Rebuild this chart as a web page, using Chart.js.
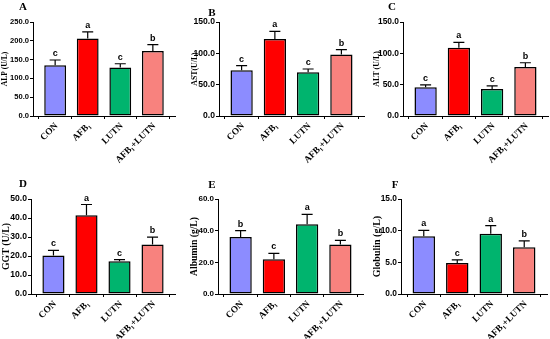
<!DOCTYPE html>
<html><head><meta charset="utf-8">
<script src="https://cdn.jsdelivr.net/npm/chart.js@4"></script>
<style>
html,body{margin:0;padding:0;background:#fff;width:550px;height:339px;overflow:hidden}
canvas{position:absolute;left:0;top:0}
</style></head>
<body>
<canvas id="c0" width="550" height="339"></canvas>
<canvas id="c1" width="550" height="339"></canvas>
<canvas id="c2" width="550" height="339"></canvas>
<canvas id="c3" width="550" height="339"></canvas>
<canvas id="c4" width="550" height="339"></canvas>
<canvas id="c5" width="550" height="339"></canvas>
<script>
// ---- data ----
const categories = ['CON', 'AFB\u2081', 'LUTN', 'AFB\u2081+LUTN'];
const barColors = ['#8c8cff', '#ff0000', '#00b46e', '#f8827e'];

const alpMean = [135, 206, 129, 173];
const alpErr  = [14, 18, 10, 17];
const alpSig  = ['c', 'a', 'c', 'b'];

const astMean = [73, 123, 70, 98];
const astErr  = [7.5, 12, 5, 8];
const astSig  = ['c', 'a', 'c', 'b'];

const altMean = [46, 109, 43, 78];
const altErr  = [3.7, 8.5, 5, 7];
const altSig  = ['c', 'a', 'c', 'b'];

const ggtMean = [20.2, 41.5, 17.2, 26];
const ggtErr  = [2.8, 5.6, 0.9, 3.9];
const ggtSig  = ['c', 'a', 'c', 'b'];

const albMean = [36, 22, 44, 31.3];
const albErr  = [4, 3.6, 6.3, 2.6];
const albSig  = ['b', 'c', 'a', 'b'];

const gloMean = [9.1, 4.9, 9.5, 7.4];
const gloErr  = [0.95, 0.5, 1.3, 1.0];
const gloSig  = ['a', 'c', 'a', 'b'];

const yTitles = ['ALP (U/L)', 'AST(U/L)', 'ALT (U/L)', 'GGT (U/L)', 'Albumin (g/L)', 'Globulin (g/L)'];
const panelLetters = ['A', 'B', 'C', 'D', 'E', 'F'];
const yMaxes = [250, 150, 150, 50, 60, 15];
const ySteps = [50, 50, 50, 10, 20, 5];

// ---- layout (page coordinates) ----
const layoutCfg = [
  {plot:[33,175,22,116],  titleX:5,   titleSize:7.5, tickSize:7.6, letter:[23,7]},
  {plot:[219,364,22,116], titleX:195, titleSize:7.8, tickSize:8.6, letter:[212,13]},
  {plot:[403,548,22,116], titleX:377, titleSize:7.8, tickSize:8.4, letter:[392,7]},
  {plot:[31,175,199,294], titleX:6,   titleSize:9.8, tickSize:8.6, letter:[23,184]},
  {plot:[218,363,199,294],titleX:195, titleSize:9.6, tickSize:8.0, letter:[212,185]},
  {plot:[401,547,199,294],titleX:377, titleSize:10,  tickSize:8.4, letter:[395,185]}
];
const means = [alpMean, astMean, altMean, ggtMean, albMean, gloMean];
const errs  = [alpErr, astErr, altErr, ggtErr, albErr, gloErr];
const sigs  = [alpSig, astSig, altSig, ggtSig, albSig, gloSig];

const XH = 40;
const W = 550, H = 339;

function makePlugin(k) {
  return {
    id: 'err' + k,
    afterDatasetsDraw(chart) {
      const ctx = chart.ctx;
      const meta = chart.getDatasetMeta(0);
      const ys = chart.scales.y;
      ctx.save();
      ctx.strokeStyle = '#000';
      ctx.lineWidth = 1.2;
      ctx.fillStyle = '#000';
      ctx.font = 'bold 9px "Liberation Sans", Arial, sans-serif';
      ctx.textAlign = 'center';
      ctx.textBaseline = 'alphabetic';
      meta.data.forEach((bar, i) => {
        const x = bar.x;
        const yTop = ys.getPixelForValue(means[k][i]);
        const yE = ys.getPixelForValue(means[k][i] + errs[k][i]);
        ctx.beginPath();
        ctx.moveTo(x, yTop);
        ctx.lineTo(x, yE);
        ctx.moveTo(x - 5.5, yE);
        ctx.lineTo(x + 5.5, yE);
        ctx.stroke();
        ctx.fillText(sigs[k][i], x, yE - 4);
      });
      const L = layoutCfg[k];
      ctx.font = 'bold 11px "Liberation Serif", "Times New Roman", serif';
      ctx.textBaseline = 'middle';
      ctx.fillText(panelLetters[k], L.letter[0], L.letter[1]);
      ctx.restore();
    },
    afterDraw(chart) {
      // category labels, rotated 45 degrees, anchored at the x-scale ticks
      const ctx = chart.ctx;
      const xs = chart.scales.x;
      const axisY = chart.chartArea.bottom;
      ctx.save();
      ctx.fillStyle = '#000';
      ctx.font = 'bold 9.3px "Liberation Serif", "Times New Roman", serif';
      ctx.textAlign = 'right';
      ctx.textBaseline = 'middle';
      categories.forEach((c, i) => {
        const x = xs.getPixelForValue(i);
        ctx.save();
        ctx.translate(x + 1.5, axisY + 8.5);
        ctx.rotate(-Math.PI / 4);
        ctx.fillText(c, 0, 0);
        ctx.restore();
      });
      ctx.restore();
    }
  };
}

for (let k = 0; k < 6; k++) {
  const L = layoutCfg[k];
  const padL = L.titleX - 0.6 * L.titleSize;
  const yW = L.plot[0] - padL;
  new Chart(document.getElementById('c' + k), {
    type: 'bar',
    data: {
      datasets: [{
        data: means[k].map((v, i) => ({x: i, y: v})),
        backgroundColor: barColors,
        borderColor: '#000',
        borderWidth: 1.5,
        borderSkipped: false,
        barPercentage: 0.67,
        categoryPercentage: 1
      }]
    },
    options: {
      responsive: false,
      animation: false,
      events: [],
      layout: {padding: {left: padL, right: W - L.plot[1], top: L.plot[2], bottom: H - L.plot[3] - XH}},
      plugins: {legend: {display: false}, tooltip: {enabled: false}},
      scales: {
        x: {
          type: 'linear', min: -0.68, max: 3.68, offset: false,
          grid: {display: true, drawOnChartArea: false, drawTicks: true, tickLength: 3, color: '#000', lineWidth: 1},
          border: {display: true, color: '#000', width: 1},
          afterBuildTicks: (s) => { s.ticks = categories.map((c, i) => ({value: i})); },
          ticks: {display: false, autoSkip: false},
          afterFit: (s) => { s.height = XH; s.paddingLeft = 0; s.paddingRight = 0; }
        },
        y: {
          min: 0, max: yMaxes[k],
          grid: {display: true, drawOnChartArea: false, drawTicks: true, tickLength: 3, color: '#000', lineWidth: 1},
          border: {display: true, color: '#000', width: 1},
          ticks: {
            stepSize: ySteps[k], padding: 1, color: '#000',
            font: {family: '"Liberation Sans", Arial, sans-serif', weight: 'bold', size: L.tickSize},
            callback: (v) => Number(v).toFixed(1)
          },
          title: {
            display: true, text: yTitles[k], color: '#000', padding: 0,
            font: {family: '"Liberation Serif", "Times New Roman", serif', weight: 'bold', size: L.titleSize, lineHeight: 1.2}
          },
          afterFit: (s) => { s.width = yW; s.paddingTop = 0; s.paddingBottom = 0; }
        }
      }
    },
    plugins: [makePlugin(k)]
  });
}
</script>
</body></html>
